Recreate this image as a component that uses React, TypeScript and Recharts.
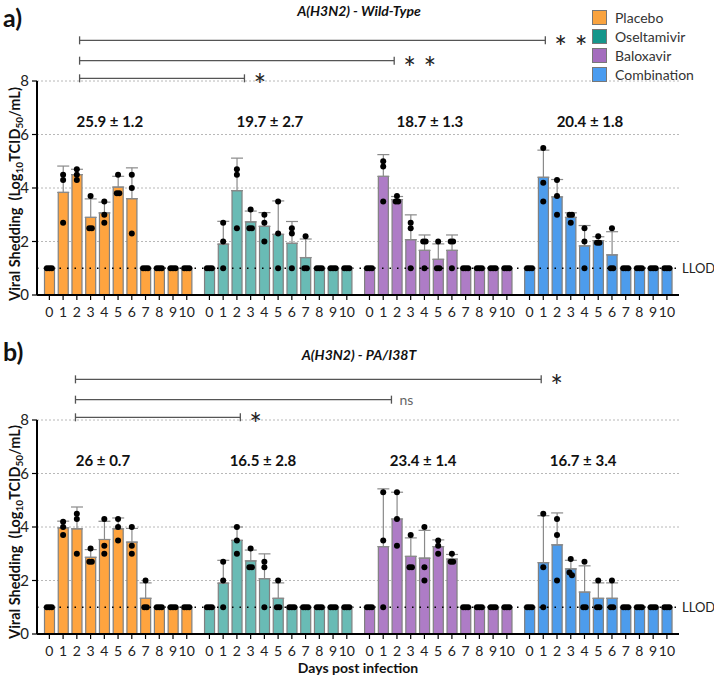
import React from "react";
import {
  ComposedChart,
  Bar,
  Cell,
  ErrorBar,
  Scatter,
  XAxis,
  YAxis,
  CartesianGrid,
  ReferenceLine,
  ReferenceDot,
} from "recharts";

const FONT = "Lato, 'Open Sans', sans-serif";

const days = ["0", "1", "2", "3", "4", "5", "6", "7", "8", "9", "10"];
const groups = ["Placebo", "Oseltamivir", "Baloxavir", "Combination"];
const barColors = ["#FFA43F", "#69BBB5", "#AE7CC6", "#4D9CEC"];
const legendColors = ["#F9A33F", "#14968B", "#A46DBE", "#4A9CF0"];

// viral titers (log10 TCID50/mL), 3 animals per day, days 0..10
const wtPlacebo = [[1, 1, 1], [4.5, 4.3, 2.7], [4.7, 4.5, 4.3], [3.7, 2.5, 2.5], [3.5, 3.0, 2.7], [4.5, 3.8, 3.8], [4.5, 4.0, 2.3], [1, 1, 1], [1, 1, 1], [1, 1, 1], [1, 1, 1]];
const wtOseltamivir = [[1, 1, 1], [2.7, 2.0, 1], [4.7, 4.5, 2.5], [3.2, 2.5, 2.5], [3.0, 2.7, 2.0], [3.5, 2.3, 1], [2.5, 2.3, 1], [2.2, 1, 1], [1, 1, 1], [1, 1, 1], [1, 1, 1]];
const wtBaloxavir = [[1, 1, 1], [5.0, 4.8, 3.5], [3.7, 3.5, 3.5], [2.7, 2.5, 1], [2.0, 2.0, 1], [2.0, 1, 1], [2.0, 2.0, 1], [1, 1, 1], [1, 1, 1], [1, 1, 1], [1, 1, 1]];
const wtCombination = [[1, 1, 1], [5.5, 4.2, 3.5], [4.3, 3.7, 3.0], [3.0, 3.0, 2.7], [2.5, 2.0, 1], [2.2, 1.95, 1.95], [2.5, 1, 1], [1, 1, 1], [1, 1, 1], [1, 1, 1], [1, 1, 1]];

const paPlacebo = [[1, 1, 1], [4.2, 4.0, 3.7], [4.5, 4.3, 3.0], [3.2, 2.7, 2.7], [4.3, 3.3, 3.0], [4.3, 4.0, 3.5], [4.0, 3.3, 3.0], [2.0, 1, 1], [1, 1, 1], [1, 1, 1], [1, 1, 1]];
const paOseltamivir = [[1, 1, 1], [2.7, 2.0, 1], [4.0, 3.5, 3.0], [3.2, 2.5, 2.5], [2.7, 2.5, 1], [2.0, 1, 1], [1, 1, 1], [1, 1, 1], [1, 1, 1], [1, 1, 1], [1, 1, 1]];
const paBaloxavir = [[1, 1, 1], [5.3, 3.5, 1], [5.3, 4.3, 3.3], [3.7, 2.5, 2.5], [4.0, 2.5, 2.0], [3.5, 3.3, 3.0], [3.0, 2.7, 2.7], [1, 1, 1], [1, 1, 1], [1, 1, 1], [1, 1, 1]];
const paCombination = [[1, 1, 1], [4.5, 2.5, 1], [4.3, 3.7, 2.0], [2.8, 2.3, 2.2], [2.7, 1, 1], [2.0, 1, 1], [2.0, 1, 1], [1, 1, 1], [1, 1, 1], [1, 1, 1], [1, 1, 1]];

// AUC mean ± SD per group
const wtSummary = ["25.9 ± 1.2", "19.7 ± 2.7", "18.7 ± 1.3", "20.4 ± 1.8"];
const paSummary = ["26 ± 0.7", "16.5 ± 2.8", "23.4 ± 1.4", "16.7 ± 3.4"];

// significance brackets (x in bar-position units)
const wtBrackets = [
  { from: 2.2, to: 36.1, level: 9.52, mark: "* *" },
  { from: 2.2, to: 25.1, level: 8.76, mark: "* *" },
  { from: 2.2, to: 14.2, level: 8.1, mark: "*" },
];
const paBrackets = [
  { from: 1.9, to: 35.8, level: 9.52, mark: "*" },
  { from: 1.9, to: 24.9, level: 8.76, mark: "ns" },
  { from: 1.9, to: 13.9, level: 8.1, mark: "*" },
];

const GROUP_STEP = 11.65;
const X_DOMAIN: [number, number] = [-0.9, 45.83];

const mean = (v: number[]) => v.reduce((a, b) => a + b, 0) / v.length;
const sd = (v: number[]) => {
  const m = mean(v);
  return Math.sqrt(v.reduce((a, b) => a + (b - m) * (b - m), 0) / (v.length - 1));
};

// spread dots that sit on the same value
const jitter = (vals: number[]) =>
  vals.map((v, i) => {
    const near = vals.map((_, j) => j).filter((j) => Math.abs(vals[j] - v) < 0.12);
    if (near.length < 2) return 0;
    return (near.indexOf(i) - (near.length - 1) / 2) * 0.18;
  });

const buildRows = (series: number[][][]) =>
  series.flatMap((reps, gi) =>
    reps.map((vals, di) => ({
      pos: gi * GROUP_STEP + di,
      day: days[di],
      group: gi,
      mean: mean(vals),
      err: [0, sd(vals)],
    }))
  );

const buildDots = (series: number[][][]) =>
  series.flatMap((reps, gi) =>
    reps.flatMap((vals, di) => {
      const off = jitter(vals);
      return vals.map((v, k) => ({ pos: gi * GROUP_STEP + di + off[k], rep: v }));
    })
  );

type Bracket = { from: number; to: number; level: number; mark: string };

function Panel({
  series,
  summary,
  brackets,
  top,
  labelShift,
}: {
  series: number[][][];
  summary: string[];
  brackets: Bracket[];
  top: number;
  labelShift: number;
}) {
  const rows = buildRows(series);
  const dots = buildDots(series);
  const ticks = rows.map((r) => r.pos);
  const dayAt = (v: number) => rows.find((r) => Math.abs(r.pos - v) < 1e-6)?.day ?? "";

  return (
    <div style={{ position: "absolute", left: 0, top, width: 714, height: 340 }}>
      <ComposedChart
        width={714}
        height={340}
        data={rows}
        margin={{ top: 81, right: 35, bottom: 15, left: 7 }}
      >
        <CartesianGrid vertical={false} stroke="#b8b8b8" strokeDasharray="2 2" />
        <XAxis
          dataKey="pos"
          type="number"
          scale="linear"
          domain={X_DOMAIN}
          allowDataOverflow
          ticks={ticks}
          interval={0}
          tickFormatter={dayAt}
          tickSize={5}
          tickMargin={7}
          tick={{ fill: "#222", fontSize: 14, fontFamily: FONT }}
          tickLine={{ stroke: "#000", strokeWidth: 1.2 }}
          axisLine={{ stroke: "#000", strokeWidth: 2 }}
        />
        <XAxis
          xAxisId="dots"
          dataKey="pos"
          type="number"
          scale="linear"
          domain={X_DOMAIN}
          allowDataOverflow
          hide
        />
        <YAxis
          type="number"
          domain={[0, 8]}
          ticks={[0, 2, 4, 6, 8]}
          width={30}
          tickSize={5}
          tickMargin={3}
          tick={{ fill: "#222", fontSize: 15, fontFamily: FONT }}
          tickLine={{ stroke: "#000", strokeWidth: 1.2 }}
          axisLine={{ stroke: "#000", strokeWidth: 2 }}
        />
        <ReferenceLine
          y={1}
          stroke="#000"
          strokeWidth={1.6}
          strokeDasharray="1.5 6"
          label={{ value: "LLOD", position: "right", offset: 3, fill: "#222", fontSize: 13, fontFamily: FONT }}
        />
        <Bar dataKey="mean" barSize={10} stroke="#808080" strokeWidth={1.2} isAnimationActive={false}>
          {rows.map((r, i) => (
            <Cell key={i} fill={barColors[r.group]} />
          ))}
          <ErrorBar dataKey="err" width={6} stroke="#8a8a8a" strokeWidth={1.2} direction="y" />
        </Bar>
        <Scatter
          xAxisId="dots"
          data={dots}
          dataKey="rep"
          isAnimationActive={false}
          shape={(p: any) => <circle cx={p.cx} cy={p.cy} r={3} fill="#000" />}
        />
        {summary.map((s, gi) => (
          <ReferenceDot
            key={`s${gi}`}
            x={gi * GROUP_STEP + 5 + labelShift}
            y={6.5}
            r={0}
            ifOverflow="visible"
            shape={(p: any) => (
              <text
                x={p.cx}
                y={p.cy}
                textAnchor="middle"
                dominantBaseline="central"
                fontFamily={FONT}
                fontWeight={700}
                fontSize={15}
                fill="#111"
              >
                {s}
              </text>
            )}
          />
        ))}
        {brackets.map((b, i) => (
          <React.Fragment key={`b${i}`}>
            <ReferenceLine
              segment={[{ x: b.from, y: b.level }, { x: b.to, y: b.level }]}
              stroke="#555"
              strokeWidth={1.3}
              ifOverflow="visible"
            />
            <ReferenceLine
              segment={[{ x: b.from, y: b.level - 0.15 }, { x: b.from, y: b.level + 0.15 }]}
              stroke="#555"
              strokeWidth={1.3}
              ifOverflow="visible"
            />
            <ReferenceLine
              segment={[{ x: b.to, y: b.level - 0.15 }, { x: b.to, y: b.level + 0.15 }]}
              stroke="#555"
              strokeWidth={1.3}
              ifOverflow="visible"
            />
            <ReferenceDot
              x={b.to}
              y={b.level}
              r={0}
              ifOverflow="visible"
              shape={(p: any) =>
                b.mark === "ns" ? (
                  <text x={p.cx + 8} y={p.cy + 5} fontFamily={FONT} fontSize={14} fill="#666">
                    ns
                  </text>
                ) : (
                  <text x={p.cx + 9} y={p.cy + 18} fontFamily={FONT} fontSize={30} fill="#222">
                    {b.mark}
                  </text>
                )
              }
            />
          </React.Fragment>
        ))}
      </ComposedChart>
    </div>
  );
}

function YTitle({ cy }: { cy: number }) {
  const sub: React.CSSProperties = { fontSize: 10, position: "relative", top: 3 };
  return (
    <div
      style={{
        position: "absolute",
        left: 14,
        top: cy,
        transform: "translate(-50%, -50%) rotate(-90deg)",
        whiteSpace: "nowrap",
        fontFamily: FONT,
        fontWeight: 700,
        fontSize: 14.5,
        color: "#111",
      }}
    >
      Viral Shedding&nbsp;&nbsp;(Log<span style={sub}>10</span>TCID<span style={sub}>50</span>/mL)
    </div>
  );
}

export default function App() {
  const text: React.CSSProperties = { position: "absolute", fontFamily: FONT, color: "#111", whiteSpace: "nowrap" };
  return (
    <div style={{ position: "absolute", left: 0, top: 0, width: 714, height: 685, background: "#fff", overflow: "hidden" }}>
      <Panel
        series={[wtPlacebo, wtOseltamivir, wtBaloxavir, wtCombination]}
        summary={wtSummary}
        brackets={wtBrackets}
        top={0}
        labelShift={-0.6}
      />
      <Panel
        series={[paPlacebo, paOseltamivir, paBaloxavir, paCombination]}
        summary={paSummary}
        brackets={paBrackets}
        top={338.5}
        labelShift={-1.1}
      />

      <div style={{ ...text, left: 3, top: 2, fontSize: 25, fontWeight: 700 }}>a)</div>
      <div style={{ ...text, left: 3, top: 336, fontSize: 25, fontWeight: 700 }}>b)</div>
      <div style={{ ...text, left: 359, top: 2, transform: "translateX(-50%)", fontSize: 14, fontWeight: 700, fontStyle: "italic" }}>
        A(H3N2) - Wild-Type
      </div>
      <div style={{ ...text, left: 359, top: 346, transform: "translateX(-50%)", fontSize: 14, fontWeight: 700, fontStyle: "italic" }}>
        A(H3N2) - PA/I38T
      </div>

      <YTitle cy={194} />
      <YTitle cy={532} />

      <div style={{ ...text, left: 358, top: 659, transform: "translateX(-50%)", fontSize: 14, fontWeight: 700 }}>
        Days post infection
      </div>

      <div style={{ position: "absolute", left: 592, top: 8 }}>
        {groups.map((g, i) => (
          <div key={g} style={{ display: "flex", alignItems: "center", height: 19 }}>
            <div style={{ width: 13, height: 13, background: legendColors[i], border: "1px solid #777", marginRight: 8 }} />
            <span style={{ fontFamily: FONT, fontSize: 14, color: "#333" }}>{g}</span>
          </div>
        ))}
      </div>
    </div>
  );
}
